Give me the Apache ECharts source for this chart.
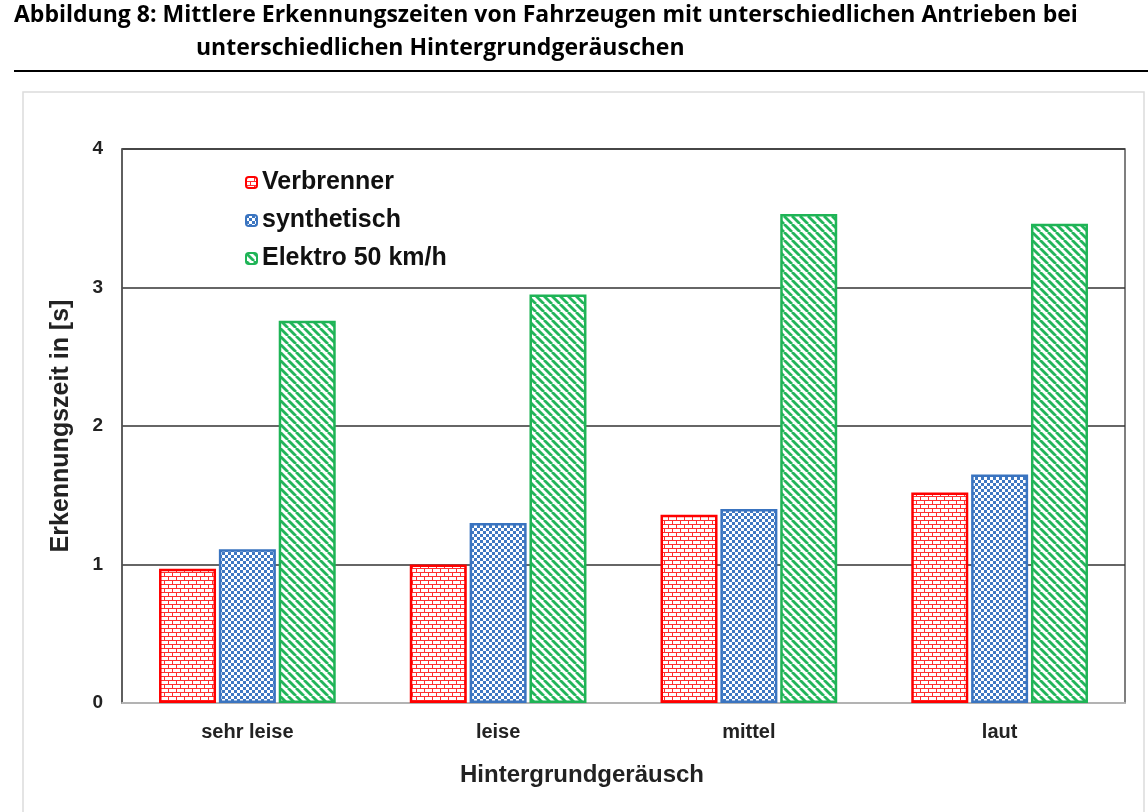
<!DOCTYPE html>
<html><head><meta charset="utf-8">
<script src="https://cdn.jsdelivr.net/npm/echarts@6/dist/echarts.min.js"></script>
<style>html,body{margin:0;padding:0;background:#fff}#c{width:1148px;height:812px}</style>
</head><body><div id="c"></div>
<script>
const categories = ['sehr leise', 'leise', 'mittel', 'laut'];
const seriesNames = ['Verbrenner', 'synthetisch', 'Elektro 50 km/h'];
const verbrenner = [0.97, 1.00, 1.36, 1.52];
const synthetisch = [1.11, 1.30, 1.40, 1.65];
const elektro = [2.76, 2.95, 3.53, 3.46];
const yTicks = [0, 1, 2, 3, 4];
const xAxisTitle = 'Hintergrundgeräusch';

function mk(w, h, draw) {
  const c = document.createElement('canvas'); c.width = w; c.height = h;
  const g = c.getContext('2d'); g.fillStyle = '#fff'; g.fillRect(0, 0, w, h); draw(g); return c;
}
const brick = mk(8, 8, g => {
  g.fillStyle = '#ff3030';
  g.fillRect(0, 0, 8, 1); g.fillRect(0, 4, 8, 1);
  g.fillRect(0, 0, 1, 4); g.fillRect(4, 4, 1, 4);
});
const checker = mk(6, 6, g => {
  g.fillStyle = '#3f78c2';
  g.fillRect(0, 0, 3, 3); g.fillRect(3, 3, 3, 3);
});
const stripes = mk(8, 8, g => {
  g.strokeStyle = '#22b55b'; g.lineWidth = 2.8;
  for (let k = -16; k <= 16; k += 8) {
    g.beginPath(); g.moveTo(k, 0); g.lineTo(k + 8, 8); g.stroke();
  }
});
const fills = [brick, checker, stripes];
const borders = ['#ff0000', '#3a74c0', '#1fb456'];
const dataSets = [verbrenner, synthetisch, elektro];

const chart = echarts.init(document.getElementById('c'), null, {renderer: 'canvas'});
const boldFont = 'Liberation Sans, Arial, sans-serif';
chart.setOption({
  animation: false,
  backgroundColor: '#fff',
  graphic: [
    {type: 'rect', shape: {x: 23, y: 92, width: 1121, height: 740}, style: {fill: 'none', stroke: '#dcdcdc', lineWidth: 1.5}, z: 0},
    {type: 'text', left: 14, top: 4, style: {text: 'Abbildung 8: Mittlere Erkennungszeiten von Fahrzeugen mit unterschiedlichen Antrieben bei', font: 'bold 23px "Open Sans", sans-serif', fill: '#000'}},
    {type: 'text', left: 196, top: 37, style: {text: 'unterschiedlichen Hintergrundgeräuschen', font: 'bold 23px "Open Sans", sans-serif', fill: '#000'}},
    {type: 'rect', shape: {x: 14, y: 70, width: 1134, height: 2}, style: {fill: '#000'}},
    {type: 'text', x: 582, y: 775, style: {text: xAxisTitle, font: 'bold 24px Liberation Sans, Arial, sans-serif', fill: '#222', textAlign: 'center', textVerticalAlign: 'middle'}}
  ],
  grid: {left: 122, right: 23, top: 149, bottom: 109, show: true, borderColor: '#555', borderWidth: 1.5, backgroundColor: 'transparent'},
  legend: {
    orient: 'vertical', left: 240, top: 165, itemWidth: 11, itemHeight: 11, itemGap: 13,
    textStyle: {fontFamily: boldFont, fontWeight: 'bold', fontSize: 25, color: '#111', padding: [0, 0, 0, 0]},
    data: seriesNames
  },
  xAxis: {
    type: 'category', data: categories,
    axisLine: {lineStyle: {color: '#d8d8d8', width: 1.5}},
    axisTick: {show: false},
    axisLabel: {fontFamily: boldFont, fontWeight: 'bold', fontSize: 20, color: '#222', margin: 19}
  },
  yAxis: {
    type: 'value', min: 0, max: 4, interval: 1,
    axisLine: {show: true, lineStyle: {color: '#555', width: 1.5}},
    axisTick: {show: false},
    splitLine: {lineStyle: {color: '#333', width: 1.5}},
    axisLabel: {fontFamily: boldFont, fontWeight: 'bold', fontSize: 19, color: '#222', margin: 19,
      formatter: v => yTicks.includes(v) ? String(v) : ''},
    name: 'Erkennungszeit in [s]', nameLocation: 'middle', nameGap: 48,
    nameTextStyle: {fontFamily: boldFont, fontWeight: 'bold', fontSize: 25, color: '#222'}
  },
  series: dataSets.map((d, i) => ({
    name: seriesNames[i], type: 'bar', data: d,
    barWidth: 57, barGap: '5%',
    itemStyle: {color: {image: fills[i], repeat: 'repeat'}, borderColor: borders[i], borderWidth: 2.5}
  }))
});
</script></body></html>
